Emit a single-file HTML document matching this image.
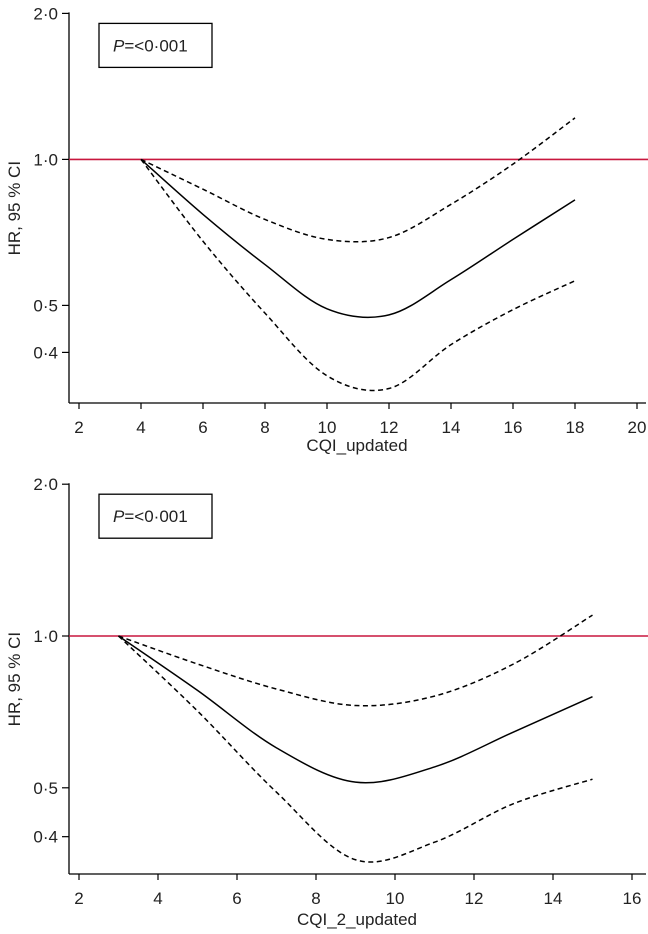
<!DOCTYPE html>
<html><head><meta charset="utf-8"><style>
body{margin:0;background:#fff;}
svg{display:block;font-family:"Liberation Sans",Arial,sans-serif;}
</style></head><body>
<svg id="svg" width="648" height="934" viewBox="0 0 648 934"></svg>
<script>
// Top chart data (CQI_updated)
const xTop = [4,6,8,10,12,14,16,18];
const hrTop = [1.0,0.77,0.607,0.492,0.478,0.565,0.684,0.825];
const upTop = [1.0,0.868,0.752,0.684,0.69,0.808,0.978,1.218];
const loTop = [1.0,0.678,0.482,0.358,0.337,0.415,0.49,0.562];
const xTicksTop = [2,4,6,8,10,12,14,16,18,20];
// Bottom chart data (CQI_2_updated)
const xBot = [3,5,7,9,11,13,15];
const hrBot = [1.0,0.78,0.6,0.513,0.55,0.645,0.758];
const upBot = [1.0,0.88,0.785,0.728,0.76,0.88,1.1];
const loBot = [1.0,0.71,0.49,0.36,0.39,0.465,0.52];
const xTicksBot = [2,4,6,8,10,12,14,16];
const yTicks = [0.4,0.5,1.0,2.0];
const yTickLabels = ["0·4","0·5","1·0","2·0"];

const NS="http://www.w3.org/2000/svg";
const svg=document.getElementById('svg');
function mk(tag,attrs,parent){const e=document.createElementNS(NS,tag);for(const k in attrs)e.setAttribute(k,attrs[k]);(parent||svg).appendChild(e);return e;}

function smooth(pts){
  let d=`M${pts[0][0]},${pts[0][1]}`;
  for(let i=0;i<pts.length-1;i++){
    const p0=pts[i-1]||pts[i],p1=pts[i],p2=pts[i+1],p3=pts[i+2]||p2;
    const c1x=p1[0]+(p2[0]-p0[0])/6,c1y=p1[1]+(p2[1]-p0[1])/6;
    const c2x=p2[0]-(p3[0]-p1[0])/6,c2y=p2[1]-(p3[1]-p1[1])/6;
    d+=` C${c1x},${c1y} ${c2x},${c2y} ${p2[0]},${p2[1]}`;
  }
  return d;
}

function chart(cfg){
  const g=mk('g',{});
  
  
  const X=v=>cfg.x0+(v-cfg.xmin)*cfg.xs;
  const Y=v=>cfg.y1+cfg.dbl*(-Math.log2(v));
  const ya=mk('line',{x1:69,y1:Y(2.0)-1,x2:69,y2:cfg.axisY,stroke:'#000','stroke-width':1.3},g);
  
  
  const xa=mk('line',{x1:69,y1:cfg.axisY,x2:646,y2:cfg.axisY,stroke:'#000','stroke-width':1.3},g);
  
  
  yTicks.forEach((t,i)=>{
    mk('line',{x1:62,y1:Y(t),x2:69,y2:Y(t),stroke:'#000','stroke-width':1.2},g);
    const tx=mk('text',{x:58,y:Y(t)+6,'text-anchor':'end','font-size':17,fill:'#222'},g);
    tx.textContent=yTickLabels[i];
    
    
  });
  cfg.ticks.forEach(t=>{
    mk('line',{x1:X(t),y1:cfg.axisY,x2:X(t),y2:cfg.axisY+6,stroke:'#000','stroke-width':1.2},g);
    const tx=mk('text',{x:X(t),y:cfg.axisY+30,'text-anchor':'middle','font-size':17,fill:'#222'},g);
    tx.textContent=t;
    
    
  });
  const xt=mk('text',{x:357,y:cfg.axisY+cfg.titleOff,'text-anchor':'middle','font-size':17,fill:'#222'},g);
  xt.textContent=cfg.xtitle;
  
  
  const cy=(Y(2.0)+cfg.axisY)/2;
  const yt=mk('text',{x:20,y:cy,'text-anchor':'middle','font-size':17,fill:'#222',transform:`rotate(-90 20 ${cy})`},g);
  yt.textContent='HR, 95 % CI';
  
  
  const rl=mk('line',{x1:69,y1:Y(1),x2:648,y2:Y(1),stroke:'#c8173e','stroke-width':1.6},g);
  
  
  const bx=mk('rect',{x:99,y:Y(2.0)+10,width:113,height:44,fill:'#fff',stroke:'#000','stroke-width':1.3},g);
  
  
  const pt=mk('text',{x:113,y:Y(2.0)+38,'font-size':17,fill:'#222'},g);
  pt.innerHTML='<tspan font-style="italic">P</tspan>=&lt;0·001';
  
  
  [[cfg.up,'upper-ci','5 3.5'],[cfg.lo,'lower-ci','5 3.5'],[cfg.hr,'hr-curve',null]].forEach(([arr,n,dash])=>{
    const pts=cfg.xs_data.map((x,i)=>[X(x),Y(arr[i])]);
    const p=mk('path',{d:smooth(pts),fill:'none',stroke:'#000','stroke-width':1.5},g);
    if(dash)p.setAttribute('stroke-dasharray',dash);
    
    
  });
}
chart({name:'chart-cqi-updated',x0:79,xmin:2,xs:31,y1:159.4,dbl:146,axisY:403,titleOff:48,ticks:xTicksTop,xtitle:'CQI_updated',xs_data:xTop,hr:hrTop,up:upTop,lo:loTop});
chart({name:'chart-cqi-2-updated',x0:79,xmin:2,xs:39.5,y1:636,dbl:151.8,axisY:874,titleOff:51,ticks:xTicksBot,xtitle:'CQI_2_updated',xs_data:xBot,hr:hrBot,up:upBot,lo:loBot});
</script>
</body></html>
